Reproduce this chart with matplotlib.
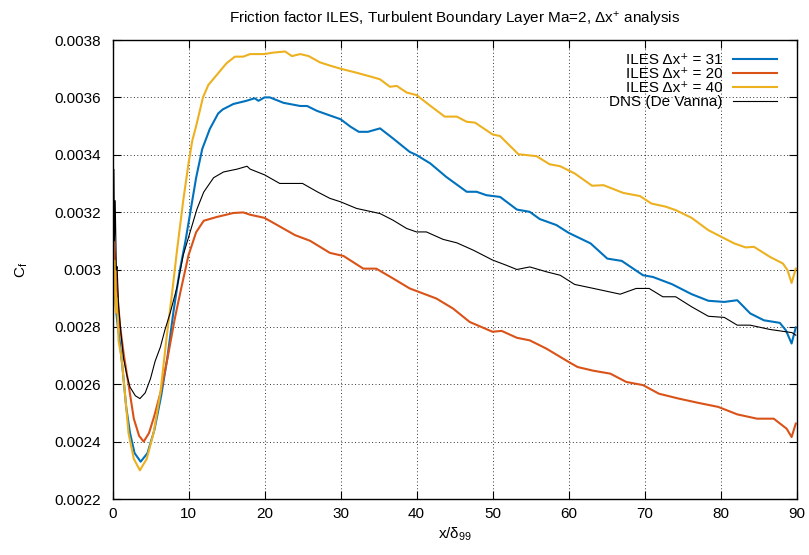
"""
Friction factor of a Ma=2 turbulent boundary layer: ILES grid study vs DNS
"""

import matplotlib

matplotlib.use("Agg")
import matplotlib.pyplot as plt
from matplotlib.ticker import FuncFormatter

plt.rcParams["font.family"] = ["Liberation Sans", "DejaVu Sans"]
plt.rcParams["mathtext.fontset"] = "custom"
plt.rcParams["mathtext.rm"] = "Liberation Sans"
plt.rcParams["mathtext.it"] = "Liberation Sans"
plt.rcParams["mathtext.bf"] = "Liberation Sans:bold"

# * Data
X_ILES40 = [0, 0.15, 0.3, 0.45, 0.6, 0.8, 1.0, 1.2, 1.45, 1.7, 2.1, 2.8, 3.6, 4.5,
            5.4, 6.3, 7.1, 7.8, 8.5, 9.3, 10.0, 10.5, 11.0, 11.9, 12.6, 13.7, 15.0,
            16.1, 17.2, 18.1, 20.0, 21.1, 22.7, 23.6, 24.7, 25.8, 27.3, 28.6, 30.0,
            32.1, 34.3, 35.2, 36.5, 37.4, 38.7, 40.0, 41.8, 43.7, 45.3, 46.6, 47.7,
            50.0, 51.0, 53.4, 55.8, 57.5, 58.9, 60.8, 63.1, 64.6, 67.2, 69.4, 70.9,
            72.8, 74.1, 76.2, 78.4, 80.1, 81.8, 83.3, 84.4, 86.5, 88.2, 88.8, 89.35,
            89.9]
CF_ILES40 = [0.00275, 0.00295, 0.00303, 0.00285, 0.0029, 0.00275, 0.00272, 0.00269,
             0.00262, 0.00255, 0.00243, 0.00234, 0.0023, 0.00234, 0.00243, 0.00257,
             0.00276, 0.00291, 0.00307, 0.00324, 0.00337, 0.00345, 0.0035, 0.0036,
             0.003643, 0.003678, 0.003719, 0.003742, 0.003742, 0.003751, 0.003751,
             0.003756, 0.00376, 0.003744, 0.003751, 0.003744, 0.003722, 0.003711,
             0.0037, 0.003686, 0.00367, 0.003663, 0.003637, 0.00364, 0.003617,
             0.003608, 0.003571, 0.003533, 0.003533, 0.003515, 0.003512, 0.003471,
             0.003465, 0.003402, 0.003395, 0.003367, 0.00336, 0.003335, 0.003292,
             0.003294, 0.003267, 0.003256, 0.00323, 0.003219, 0.003207, 0.00318,
             0.003137, 0.003114, 0.003091, 0.003077, 0.003079, 0.003044, 0.003021,
             0.002998, 0.002953, 0.003003]

X_ILES31 = [0, 0.15, 0.3, 0.5, 0.7, 0.9, 1.3, 1.8, 2.3, 2.9, 3.7, 4.6, 5.5, 6.4, 7.2,
            8.0, 8.8, 9.6, 10.3, 11.0, 11.8, 12.8, 13.9, 14.5, 15.9, 17.6, 18.7,
            19.2, 20.0, 20.7, 22.5, 24.7, 25.6, 26.9, 28.6, 30.0, 31.3, 32.4, 33.6,
            35.2, 36.9, 39.1, 40.0, 41.8, 43.9, 46.6, 47.9, 49.2, 51.0, 53.2, 54.9,
            56.2, 58.4, 60.0, 62.9, 65.1, 67.0, 69.8, 71.1, 73.6, 76.2, 78.4, 80.5,
            82.2, 83.9, 85.7, 87.8, 88.6, 89.35, 89.9]
CF_ILES31 = [0.00285, 0.003, 0.00292, 0.00285, 0.0028, 0.00276, 0.00266, 0.00252,
             0.00243, 0.00236, 0.00233, 0.00236, 0.00244, 0.00256, 0.00269, 0.00285,
             0.00299, 0.0031, 0.00321, 0.00332, 0.00342, 0.00349, 0.003544, 0.003558,
             0.003577, 0.003588, 0.003597, 0.003588, 0.0036, 0.0036, 0.003581,
             0.00357, 0.00357, 0.003553, 0.003537, 0.003524, 0.003498, 0.00348,
             0.00348, 0.003492, 0.003457, 0.00341, 0.003399, 0.00337, 0.003323,
             0.003271, 0.003271, 0.003259, 0.003253, 0.003209, 0.003201, 0.003176,
             0.003155, 0.003128, 0.003091, 0.003038, 0.00303, 0.00298, 0.002974,
             0.002949, 0.002914, 0.002891, 0.002887, 0.002893, 0.002847, 0.002823,
             0.002814, 0.002788, 0.002742, 0.002798]

X_ILES20 = [0, 0.15, 0.3, 0.45, 0.6, 1.0, 1.5, 2.1, 2.8, 3.5, 4.1, 4.8, 5.5, 6.4, 7.3,
            8.2, 9.0, 10.0, 11.0, 12.0, 13.7, 15.9, 17.2, 18.1, 20.0, 22.0, 24.0,
            26.0, 28.6, 30.4, 33.0, 34.7, 36.9, 39.1, 41.8, 42.6, 44.8, 47.0, 50.0,
            51.2, 53.2, 54.9, 57.1, 60.0, 61.2, 63.3, 65.5, 67.6, 69.8, 71.9, 74.5,
            77.1, 79.7, 82.2, 84.8, 87.0, 88.7, 89.35, 89.9]
CF_ILES20 = [0.0029, 0.0031, 0.00305, 0.00298, 0.00293, 0.0028, 0.0027, 0.0026,
             0.00248, 0.00242, 0.0024, 0.00243, 0.00249, 0.00258, 0.0027, 0.00283,
             0.00293, 0.00305, 0.00313, 0.00317, 0.003183, 0.003197, 0.003199,
             0.003191, 0.00318, 0.00315, 0.00312, 0.0031, 0.003058, 0.003047,
             0.003003, 0.003003, 0.002969, 0.002934, 0.002907, 0.002899, 0.002864,
             0.002817, 0.002783, 0.002786, 0.002762, 0.002753, 0.002724, 0.002678,
             0.00266, 0.002647, 0.002637, 0.002608, 0.002597, 0.002567, 0.00255,
             0.002535, 0.002521, 0.002495, 0.00248, 0.00248, 0.002445, 0.002416,
             0.002463]

X_DNS = [0, 0.05, 0.1, 0.15, 0.25, 0.35, 0.5, 0.6, 0.8, 1.1, 1.45, 1.9, 2.3, 3.0, 3.6,
         4.3, 5.0, 5.6, 6.3, 6.9, 7.6, 8.5, 9.3, 10.2, 11.1, 12.0, 13.3, 14.6, 16.4,
         17.7, 18.1, 20.0, 22.0, 25.0, 27.0, 28.6, 30.0, 32.1, 35.2, 36.9, 38.7,
         40.0, 41.3, 43.5, 45.3, 47.5, 50.0, 51.8, 53.2, 54.9, 57.1, 58.9, 60.8,
         63.3, 66.8, 68.9, 70.6, 72.4, 74.1, 76.2, 78.4, 80.5, 82.2, 83.9, 86.5,
         89.4, 89.9]
CF_DNS = [0.003, 0.00351, 0.0029, 0.00335, 0.0031, 0.00324, 0.003, 0.00301, 0.00287,
          0.00278, 0.00269, 0.00263, 0.00259, 0.00256, 0.00255, 0.00257, 0.00262,
          0.00268, 0.00273, 0.00279, 0.00285, 0.00294, 0.00305, 0.00313, 0.00321,
          0.00327, 0.00332, 0.00334, 0.00335, 0.00336, 0.00335, 0.00333, 0.0033,
          0.0033, 0.00327, 0.003248, 0.003236, 0.003213, 0.003195, 0.003172,
          0.003143, 0.003131, 0.003131, 0.003105, 0.003093, 0.003067, 0.003033,
          0.003015, 0.003, 0.003009, 0.002992, 0.00298, 0.002948, 0.002934,
          0.002914, 0.002934, 0.002934, 0.002905, 0.002905, 0.00287, 0.002837,
          0.002833, 0.002806, 0.002806, 0.002791, 0.00278, 0.002771]

X_TICKS = [0, 10, 20, 30, 40, 50, 60, 70, 80, 90]
Y_TICKS = [0.0022, 0.0024, 0.0026, 0.0028, 0.003, 0.0032, 0.0034, 0.0036, 0.0038]


def main() -> None:
    """Draw the chart"""
    fig = plt.figure(figsize=(8.09, 5.55), dpi=100)
    ax = fig.add_axes([0.1391, 0.1009, 0.8455, 0.827])

    ax.plot(X_ILES31, CF_ILES31, color="#0072BD", lw=1.5,
            label="ILES \u0394x\u207a = 31")
    ax.plot(X_ILES20, CF_ILES20, color="#D95319", lw=1.5,
            label="ILES \u0394x\u207a = 20")
    ax.plot(X_ILES40, CF_ILES40, color="#EDB120", lw=1.5,
            label="ILES \u0394x\u207a = 40")
    ax.plot(X_DNS, CF_DNS, color="black", lw=0.8, label="DNS (De Vanna)")

    ax.set_xlim(0, 90)
    ax.set_ylim(0.0022, 0.0038)
    ax.set_xticks(X_TICKS)
    ax.set_yticks(Y_TICKS)
    ax.yaxis.set_major_formatter(FuncFormatter(lambda v, _: f"{v:g}"))
    ax.tick_params(direction="in", length=6, width=0.8, labelsize=11,
                   top=True, right=True)
    ax.tick_params(axis="x", pad=6)
    ax.tick_params(axis="y", pad=8)
    for sp in ax.spines.values():
        sp.set_linewidth(1.0)
    ax.grid(True, color="black", linestyle=(0, (1, 2.5)), linewidth=0.7, alpha=0.8)

    ax.set_xlabel(r"x/$\delta_{99}$", fontsize=11, labelpad=3)
    ax.set_ylabel(r"C$_{f}$", fontsize=11, labelpad=18)
    ax.set_title(r"Friction factor ILES, Turbulent Boundary Layer Ma=2, $\Delta$x$^{+}$ analysis",
                 fontsize=11, pad=12)

    ax.legend(loc="upper right", bbox_to_anchor=(0.9715, 0.972), frameon=False,
              markerfirst=False, fontsize=11, handlelength=2.9, handletextpad=0.65,
              labelspacing=0.0, borderpad=0, borderaxespad=0)

    fig.savefig("out.png", dpi=100)


if __name__ == "__main__":
    main()
